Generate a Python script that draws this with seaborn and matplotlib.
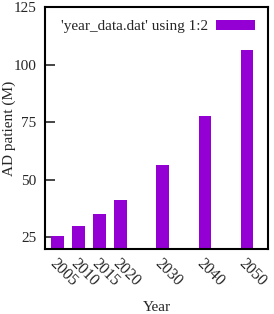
import matplotlib
matplotlib.use("Agg")
import matplotlib.pyplot as plt
import seaborn as sns
import pandas as pd

years = [2005, 2010, 2015, 2020, 2030, 2040, 2050]
patients = [25.5, 30.0, 35.2, 41.1, 56.4, 77.7, 106.3]
yticks = [25, 50, 75, 100, 125]
series_label = "'year_data.dat' using 1:2"
color = "#9400D3"

sns.set_theme(style="white")
plt.rcParams['font.family'] = ['Liberation Serif', 'DejaVu Serif']

df = pd.DataFrame({"Year": years, "AD": patients})

fs = 11
fig = plt.figure(figsize=(2.74, 3.14), dpi=100)
ax = fig.add_axes([0.164, 0.207, 0.814, 0.771])
sns.barplot(data=df, x="Year", y="AD", native_scale=True, width=0.6,
            color=color, saturation=1, ax=ax, label=series_label,
            edgecolor=color, linewidth=0)

ax.set_xlim(2002, 2055)
ax.set_ylim(20, 125)
ax.set_yticks(yticks)
ax.set_yticklabels([str(v) for v in yticks], fontsize=fs)
ax.set_xticks(years)
ax.set_xticklabels([str(y) for y in years], fontsize=11.5, rotation=-45,
                   ha='left', va='top', rotation_mode='anchor')
ax.tick_params(axis='x', length=0, pad=5)
ax.tick_params(axis='y', direction='in', length=7, width=1.2, left=True, pad=6)
ax.set_xlabel("Year", fontsize=fs, labelpad=8)
ax.set_ylabel("AD patient (M)", fontsize=fs)
ax.yaxis.set_label_coords(-0.13, 0.5)
for s in ax.spines.values():
    s.set_color('black')
    s.set_linewidth(1.5)

ax.legend(loc='upper right', frameon=False, markerfirst=False, fontsize=fs,
          handlelength=2.55, handleheight=0.65, handletextpad=0.5,
          borderaxespad=0.45)

fig.savefig("out.png", dpi=100)
